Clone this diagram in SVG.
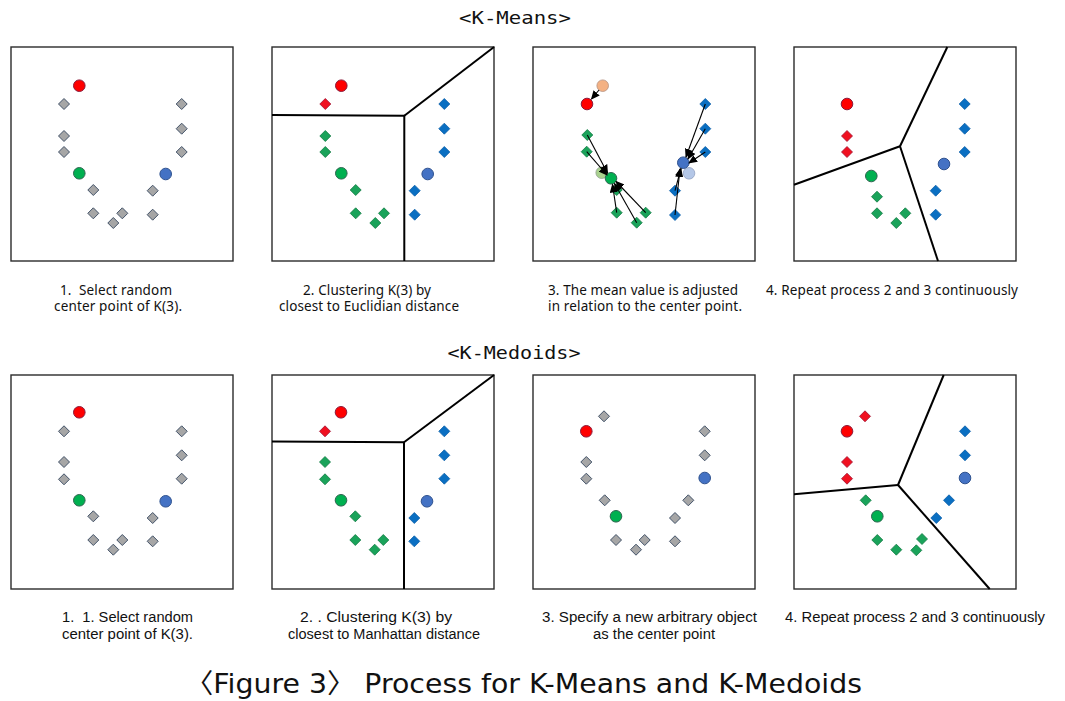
<svg xmlns="http://www.w3.org/2000/svg" xmlns:xlink="http://www.w3.org/1999/xlink" width="1065" height="701" viewBox="0 0 1065 701">
<style>
.box{fill:#fff;stroke:#2b2b2b;stroke-width:1.4}
.part{fill:none;stroke:#000;stroke-width:2}
.arr{stroke:#000;stroke-width:1.1;fill:none;marker-end:url(#ah)}
.cap{font-family:"Noto Sans","Liberation Sans",sans-serif;font-size:13.5px;fill:#111}
.capb{font-family:"Liberation Sans","Noto Sans",sans-serif;font-size:14px;fill:#111}
.title{font-family:"DejaVu Sans Mono","Liberation Mono",monospace;font-size:18px;fill:#111}
.fig{font-family:"DejaVu Sans","Noto Sans CJK KR",sans-serif;font-size:27px;fill:#111}
</style>
<defs>
<marker id="ah" markerWidth="9" markerHeight="8" refX="8" refY="4" orient="auto" markerUnits="userSpaceOnUse"><path d="M0,0 L9,4 L0,8 Z" fill="#000"/></marker>
<polygon id="dg" points="0,-5.5 5.5,0 0,5.5 -5.5,0" fill="#a6a6a6" stroke="#44546a" stroke-width="1"/>
<polygon id="dgr" points="0,-5.5 5.5,0 0,5.5 -5.5,0" fill="#1aa35a" stroke="#117a42" stroke-width="0.8"/>
<polygon id="db" points="0,-5.5 5.5,0 0,5.5 -5.5,0" fill="#0a6fc2" stroke="#0b5ea8" stroke-width="0.8"/>
<polygon id="dr" points="0,-5.5 5.5,0 0,5.5 -5.5,0" fill="#f01020" stroke="#a01030" stroke-width="0.8"/>
<circle id="cr" r="5.8" fill="#ff0000" stroke="#8b1a3a" stroke-width="1"/>
<circle id="cg" r="5.8" fill="#00b050" stroke="#2f6550" stroke-width="1"/>
<circle id="cb" r="5.8" fill="#4472c4" stroke="#2f528f" stroke-width="1"/>
<circle id="cp" r="5.8" fill="#f4b183" stroke="#b49080" stroke-width="0.8"/>
<circle id="clg" r="5.8" fill="#a9d18e" stroke="#90a090" stroke-width="0.8"/>
<circle id="clb" r="5.8" fill="#b4c7e7" stroke="#90a0c0" stroke-width="0.8"/>
</defs>

<text class="title" x="515" y="24" text-anchor="middle" textLength="112" lengthAdjust="spacingAndGlyphs">&lt;K-Means&gt;</text>
<text class="title" x="514" y="359" text-anchor="middle" textLength="133" lengthAdjust="spacingAndGlyphs">&lt;K-Medoids&gt;</text>

<!-- Panel 1 -->
<g id="km1" transform="translate(11,47)">
<rect class="box" x="0" y="0" width="222" height="214"/>
<use href="#cr" x="68.3" y="38.7"/>
<use href="#dg" x="53" y="57"/><use href="#dg" x="170.7" y="57"/><use href="#dg" x="170.7" y="81.7"/>
<use href="#dg" x="53" y="89"/><use href="#dg" x="53" y="105"/><use href="#dg" x="170.7" y="105"/>
<use href="#cg" x="68.3" y="126.3"/><use href="#cb" x="154.7" y="127"/>
<use href="#dg" x="82.3" y="143"/><use href="#dg" x="141.7" y="143.7"/>
<use href="#dg" x="82.3" y="166.3"/><use href="#dg" x="111.3" y="166.3"/><use href="#dg" x="102.3" y="176"/><use href="#dg" x="141.7" y="167.7"/>
</g>

<!-- Panel 2 -->
<g id="km2" transform="translate(272,47)">
<rect class="box" x="0" y="0" width="222" height="214"/>
<use href="#cr" x="69.3" y="38.7"/><use href="#dr" x="53.3" y="57"/>
<use href="#dgr" x="53.3" y="89"/><use href="#dgr" x="53.3" y="105"/><use href="#cg" x="69.3" y="126.3"/>
<use href="#dgr" x="83.7" y="143"/><use href="#dgr" x="83.7" y="166.3"/><use href="#dgr" x="112" y="166.3"/><use href="#dgr" x="103.3" y="176"/>
<use href="#db" x="172.3" y="57"/><use href="#db" x="172.3" y="81.7"/><use href="#db" x="172.3" y="105"/>
<use href="#cb" x="155.7" y="127"/><use href="#db" x="142.7" y="143.7"/><use href="#db" x="142.7" y="167.7"/>
</g>

<!-- Panel 3 -->
<g id="km3" transform="translate(533,47)">
<rect class="box" x="0" y="0" width="222" height="214"/>
<use href="#cp" x="69.7" y="38.7"/><use href="#cr" x="54" y="57"/>
<use href="#dgr" x="54.3" y="88"/><use href="#dgr" x="53.7" y="104.7"/><use href="#dgr" x="83.7" y="143"/>
<use href="#dgr" x="83.7" y="165.7"/><use href="#dgr" x="112.7" y="165.7"/><use href="#dgr" x="103.7" y="175.7"/>
<use href="#clg" x="68.7" y="125.7"/><use href="#cg" x="78" y="131.3"/>
<use href="#db" x="172.3" y="57"/><use href="#db" x="172.3" y="81.7"/><use href="#db" x="172.3" y="105"/>
<use href="#db" x="142" y="143.7"/><use href="#db" x="142" y="168"/>
<use href="#clb" x="156" y="126.3"/><use href="#cb" x="150.3" y="115.7"/>
</g>

<!-- Panel 4 -->
<g id="km4" transform="translate(794,47)">
<rect class="box" x="0" y="0" width="222" height="214"/>
<use href="#cr" x="53" y="57"/><use href="#dr" x="53" y="89"/><use href="#dr" x="53" y="105"/>
<use href="#cg" x="77.3" y="129"/><use href="#dgr" x="83" y="149.7"/><use href="#dgr" x="83" y="166.3"/><use href="#dgr" x="111.3" y="166.3"/><use href="#dgr" x="102.3" y="176"/>
<use href="#db" x="170.7" y="57"/><use href="#db" x="170.7" y="81.7"/><use href="#db" x="170.7" y="105"/>
<use href="#cb" x="150" y="117"/><use href="#db" x="141.7" y="143.7"/><use href="#db" x="141.7" y="167.7"/>
</g>

<!-- Panel 5 -->
<g id="kd1" transform="translate(11,375)">
<rect class="box" x="0" y="0" width="222" height="214"/>
<use href="#cr" x="68.3" y="37.3"/>
<use href="#dg" x="53" y="56.3"/><use href="#dg" x="170.7" y="56.3"/><use href="#dg" x="170.7" y="80.3"/>
<use href="#dg" x="53" y="87"/><use href="#dg" x="53" y="104.3"/><use href="#dg" x="170.7" y="103.7"/>
<use href="#cg" x="68.3" y="125.3"/><use href="#cb" x="154.7" y="126.3"/>
<use href="#dg" x="82.3" y="141.3"/><use href="#dg" x="141.7" y="143"/>
<use href="#dg" x="82.3" y="165"/><use href="#dg" x="111.3" y="165"/><use href="#dg" x="102.3" y="174.7"/><use href="#dg" x="141.7" y="166.3"/>
</g>

<!-- Panel 6 -->
<g id="kd2" transform="translate(272,375)">
<rect class="box" x="0" y="0" width="222" height="214"/>
<use href="#cr" x="69" y="37.3"/><use href="#dr" x="53" y="56.3"/>
<use href="#dgr" x="53" y="87"/><use href="#dgr" x="53" y="104.3"/><use href="#cg" x="69" y="125.3"/>
<use href="#dgr" x="83.3" y="141.3"/><use href="#dgr" x="83.3" y="165"/><use href="#dgr" x="111.3" y="165"/><use href="#dgr" x="102.7" y="174.7"/>
<use href="#db" x="172.3" y="56.3"/><use href="#db" x="172.3" y="80.3"/><use href="#db" x="172.3" y="103.7"/>
<use href="#cb" x="155" y="126.3"/><use href="#db" x="142.3" y="143"/><use href="#db" x="142.3" y="166.3"/>
</g>

<!-- Panel 7 -->
<g id="kd3" transform="translate(533,375)">
<rect class="box" x="0" y="0" width="222" height="214"/>
<use href="#dg" x="71" y="41.3"/><use href="#cr" x="53.3" y="56.3"/>
<use href="#dg" x="171.7" y="56.3"/><use href="#dg" x="53.3" y="87"/><use href="#dg" x="171.7" y="80.3"/>
<use href="#dg" x="53.3" y="103.7"/><use href="#cb" x="171.7" y="103"/>
<use href="#dg" x="71.7" y="125.3"/><use href="#dg" x="155.3" y="125.3"/>
<use href="#cg" x="83" y="141.3"/><use href="#dg" x="142" y="143"/>
<use href="#dg" x="83" y="165"/><use href="#dg" x="111.7" y="165"/><use href="#dg" x="103" y="174.7"/><use href="#dg" x="142" y="166.3"/>
</g>

<!-- Panel 8 -->
<g id="kd4" transform="translate(794,375)">
<rect class="box" x="0" y="0" width="222" height="214"/>
<use href="#dr" x="71" y="41.3"/><use href="#cr" x="53" y="56.3"/><use href="#dr" x="53" y="87"/><use href="#dr" x="53" y="103.7"/>
<use href="#db" x="171" y="56.3"/><use href="#db" x="171" y="80.3"/><use href="#cb" x="171" y="103"/>
<use href="#db" x="155" y="125.3"/><use href="#db" x="142.3" y="143"/>
<use href="#dgr" x="71.7" y="125.3"/><use href="#cg" x="83.3" y="141.3"/>
<use href="#dgr" x="83.3" y="165"/><use href="#dgr" x="102.3" y="174.7"/><use href="#dgr" x="122.3" y="175.3"/><use href="#dgr" x="128" y="164"/>
</g>

<!-- Connectors: partition lines and arrows -->
<g id="connectors">
<polyline class="part" points="272,115 404.3,115.7 404.3,261"/>
<line class="part" x1="404.3" y1="115.7" x2="494" y2="47"/>
<line class="part" x1="900" y1="146.3" x2="947.3" y2="47"/>
<line class="part" x1="900" y1="146.3" x2="794" y2="184.7"/>
<line class="part" x1="900" y1="146.3" x2="938" y2="261"/>
<polyline class="part" points="272,441.5 404,442.3 404,589"/>
<line class="part" x1="404" y1="442.3" x2="494" y2="375"/>
<line class="part" x1="898" y1="485" x2="943.7" y2="375"/>
<line class="part" x1="898" y1="485" x2="794" y2="494.3"/>
<line class="part" x1="898" y1="485" x2="989.7" y2="589"/>
<line class="arr" x1="599" y1="90" x2="591.5" y2="99"/>
<line class="arr" x1="587.3" y1="135" x2="607.5" y2="173"/>
<line class="arr" x1="586.7" y1="151.7" x2="607" y2="175"/>
<line class="arr" x1="616.7" y1="212.7" x2="612.5" y2="184.5"/>
<line class="arr" x1="636.7" y1="222.7" x2="614.5" y2="183.5"/>
<line class="arr" x1="645.7" y1="212.7" x2="616" y2="181.5"/>
<line class="arr" x1="705.3" y1="104" x2="686" y2="157"/>
<line class="arr" x1="705.3" y1="128.7" x2="688" y2="159"/>
<line class="arr" x1="705.3" y1="152" x2="689" y2="163"/>
<line class="arr" x1="675" y1="190.7" x2="681" y2="168.5"/>
<line class="arr" x1="675" y1="215" x2="680" y2="169"/>
</g>

<!-- Captions -->
<text class="cap" xml:space="preserve" x="60" y="295" textLength="112">1.  Select random</text>
<text class="cap" x="54" y="311" textLength="128">center point of K(3).</text>
<text class="cap" x="303" y="295" textLength="128">2. Clustering K(3) by</text>
<text class="cap" x="279" y="311" textLength="180">closest to Euclidian distance</text>
<text class="cap" x="548" y="295" textLength="190">3. The mean value is adjusted</text>
<text class="cap" x="548" y="311" textLength="194">in relation to the center point.</text>
<text class="cap" x="766" y="295" textLength="252">4. Repeat process 2 and 3 continuously</text>

<text class="capb" xml:space="preserve" x="62" y="622" textLength="131" lengthAdjust="spacingAndGlyphs">1.  1. Select random</text>
<text class="capb" x="62" y="639" textLength="131" lengthAdjust="spacingAndGlyphs">center point of K(3).</text>
<text class="capb" x="300" y="622" textLength="152" lengthAdjust="spacingAndGlyphs">2. . Clustering K(3) by</text>
<text class="capb" x="288" y="639" textLength="192" lengthAdjust="spacingAndGlyphs">closest to Manhattan distance</text>
<text class="capb" x="542" y="622" textLength="215" lengthAdjust="spacingAndGlyphs">3. Specify a new arbitrary object</text>
<text class="capb" x="593" y="639" textLength="122" lengthAdjust="spacingAndGlyphs">as the center point</text>
<text class="capb" x="785" y="622" textLength="260" lengthAdjust="spacingAndGlyphs">4. Repeat process 2 and 3 continuously</text>

<text class="fig" x="185" y="693" textLength="677" lengthAdjust="spacingAndGlyphs">〈Figure 3〉 Process for K-Means and K-Medoids</text>
</svg>
